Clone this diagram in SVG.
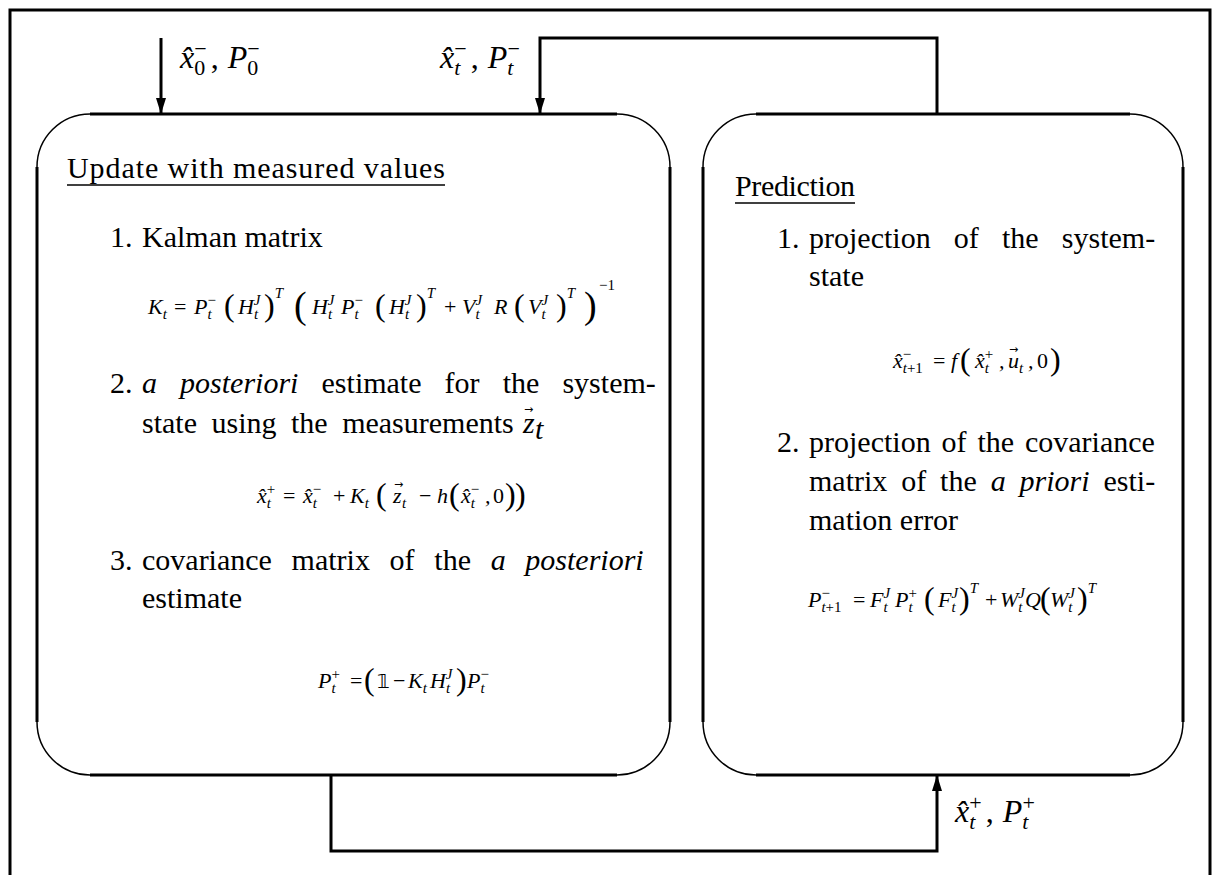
<svg xmlns="http://www.w3.org/2000/svg" width="1221" height="875" viewBox="0 0 1221 875">
<defs>
<style>
.t{font-family:"Liberation Serif",serif;font-size:30px;fill:#000}
.i{font-style:italic}
.m{font-family:"Liberation Serif","DejaVu Serif",serif;font-style:italic;font-size:22px;fill:#000}
.s{font-size:15px}
.u{font-style:normal}
.bp{font-style:normal;font-size:32px}
.bp2{font-style:normal;font-size:38px}
.ar{font-family:"DejaVu Sans",sans-serif;font-style:normal;font-size:11px}
.L{font-family:"Liberation Serif",serif;font-style:italic;font-size:32px;fill:#000}
.ls{font-size:22px}
.edge{fill:none;stroke:#000;stroke-width:3}
.arc{fill:none;stroke:#000;stroke-width:1.5}
.conn{fill:none;stroke:#000;stroke-width:3}
.ul{stroke:#000;stroke-width:1.5}
</style>
<marker id="ah" markerUnits="userSpaceOnUse" markerWidth="16" markerHeight="10" refX="15" refY="5" orient="auto">
<path d="M0,0 L16,5 L0,10 z" fill="#000"/>
</marker>
</defs>
<rect x="0" y="0" width="1221" height="875" fill="#fff"/>
<g id="frame">
<path class="edge" d="M10,880 V10 H1210 V880"/>
</g>
<g id="connectors">
<path class="conn" d="M161,38 V113" marker-end="url(#ah)"/>
<path class="conn" d="M937,114 V38 H540 V113" marker-end="url(#ah)"/>
<path class="conn" d="M331,775 V851 H937 V776" marker-end="url(#ah)"/>
</g>
<g id="label-init">
<text class="L" x="180" y="68">x̂<tspan class="ls u" y="75">0</tspan><tspan class="ls u" dx="-11" y="56">−</tspan><tspan class="u" dx="4" y="68">,</tspan><tspan dx="9">P</tspan><tspan class="ls u" y="75">0</tspan><tspan class="ls u" dx="-11" y="56">−</tspan></text>
</g>
<g id="label-prior">
<text class="L" x="440" y="68">x̂<tspan class="ls" y="75">t</tspan><tspan class="ls u" dx="-6" y="56">−</tspan><tspan class="u" dx="4" y="68">,</tspan><tspan dx="9">P</tspan><tspan class="ls" y="75">t</tspan><tspan class="ls u" dx="-6" y="56">−</tspan></text>
</g>
<g id="label-post">
<text class="L" x="955" y="822">x̂<tspan class="ls" y="829">t</tspan><tspan class="ls u" dx="-6" y="810">+</tspan><tspan class="u" dx="4" y="822">,</tspan><tspan dx="9">P</tspan><tspan class="ls" y="829">t</tspan><tspan class="ls u" dx="-6" y="810">+</tspan></text>
</g>
<g id="update">
<rect class="arc" x="37" y="114" width="633" height="661" rx="53" ry="53"/>
<path class="edge" d="M90,114 H617 M90,775 H617 M37,167 V722 M670,167 V722"/>
<text class="t" x="67" y="178" textLength="378" lengthAdjust="spacing">Update with measured values</text>
<line class="ul" x1="67" y1="185" x2="445" y2="185"/>
<text class="t" x="110" y="247">1.</text>
<text class="t" x="142" y="247">Kalman matrix</text>
<text class="m" y="314"><tspan x="148">K</tspan><tspan class="s" y="319">t</tspan><tspan class="u" x="174" y="314">=</tspan><tspan x="194">P</tspan><tspan class="s" y="319">t</tspan><tspan class="s u" dx="-4.2" y="305">−</tspan><tspan class="bp" x="224" y="316">(</tspan><tspan x="238" y="314">H</tspan><tspan class="s" y="319">t</tspan><tspan class="s" dx="-4.2" y="305">J</tspan><tspan class="bp" x="264" y="316">)</tspan><tspan class="s" y="298">T</tspan><tspan class="bp2" x="294" y="318">(</tspan><tspan x="312" y="314">H</tspan><tspan class="s" y="319">t</tspan><tspan class="s" dx="-4.2" y="305">J</tspan><tspan x="341" y="314">P</tspan><tspan class="s" y="319">t</tspan><tspan class="s u" dx="-4.2" y="305">−</tspan><tspan class="bp" x="375" y="316">(</tspan><tspan x="389" y="314">H</tspan><tspan class="s" y="319">t</tspan><tspan class="s" dx="-4.2" y="305">J</tspan><tspan class="bp" x="416" y="316">)</tspan><tspan class="s" y="298">T</tspan><tspan class="u" x="444" y="314">+</tspan><tspan x="462">V</tspan><tspan class="s" y="319">t</tspan><tspan class="s" dx="-4.2" y="305">J</tspan><tspan x="494" y="314">R</tspan><tspan class="bp" x="514" y="316">(</tspan><tspan x="528" y="314">V</tspan><tspan class="s" y="319">t</tspan><tspan class="s" dx="-4.2" y="305">J</tspan><tspan class="bp" x="556" y="316">)</tspan><tspan class="s" y="298">T</tspan><tspan class="bp2" x="584" y="318">)</tspan><tspan class="s u" x="599" y="290">−1</tspan></text>
<text class="t" x="110" y="393">2.</text>
<text class="t" x="142" y="393" word-spacing="15.6"><tspan class="i">a posteriori</tspan> estimate for the system-</text>
<text class="t" x="142" y="433" word-spacing="7">state using the measurements</text>
<text class="t i" x="523" y="433">z</text><text class="t ar" x="524" y="413" font-size="14px">→</text><text class="t i" x="535" y="439" font-size="21px">t</text>
<text class="m" y="503"><tspan x="257">x̂</tspan><tspan class="s" y="508">t</tspan><tspan class="s u" dx="-4.2" y="494">+</tspan><tspan class="u" x="283" y="503">=</tspan><tspan x="303">x̂</tspan><tspan class="s" y="508">t</tspan><tspan class="s u" dx="-4.2" y="494">−</tspan><tspan class="u" x="333" y="503">+</tspan><tspan x="350">K</tspan><tspan class="s" y="508">t</tspan><tspan class="bp" x="376" y="505">(</tspan><tspan x="393" y="503">z</tspan><tspan class="ar" x="394" y="488">→</tspan><tspan class="s" x="402" y="508">t</tspan><tspan class="u" x="419" y="503">−</tspan><tspan x="437">h</tspan><tspan class="bp" x="449" y="505">(</tspan><tspan x="461" y="503">x̂</tspan><tspan class="s" y="508">t</tspan><tspan class="s u" dx="-4.2" y="494">−</tspan><tspan x="485" y="503">,</tspan><tspan class="u" x="493">0</tspan><tspan class="bp" x="505" y="505">)</tspan><tspan class="bp" x="515">)</tspan></text>
<text class="t" x="110" y="570">3.</text>
<text class="t" x="142" y="570" word-spacing="12.2">covariance matrix of the <tspan class="i">a posteriori</tspan></text>
<text class="t" x="142" y="608">estimate</text>
<text class="m" y="688"><tspan x="318">P</tspan><tspan class="s" y="693">t</tspan><tspan class="s u" dx="-4.2" y="679">+</tspan><tspan class="u" x="350" y="688">=</tspan><tspan class="bp" x="364" y="690">(</tspan><tspan class="u" x="377" y="688" font-family="DejaVu Sans, sans-serif" font-size="20px">𝟙</tspan><tspan class="u" x="393" y="688">−</tspan><tspan x="408">K</tspan><tspan class="s" y="693">t</tspan><tspan x="430" y="688">H</tspan><tspan class="s" y="693">t</tspan><tspan class="s" dx="-4.2" y="679">J</tspan><tspan class="bp" x="456" y="690">)</tspan><tspan x="467" y="688">P</tspan><tspan class="s" y="693">t</tspan><tspan class="s u" dx="-4.2" y="679">−</tspan></text>
</g>
<g id="prediction">
<rect class="arc" x="703" y="114" width="480" height="661" rx="53" ry="53"/>
<path class="edge" d="M756,114 H1130 M756,775 H1130 M703,167 V722 M1183,167 V722"/>
<text class="t" x="735" y="196" textLength="120" lengthAdjust="spacing">Prediction</text>
<line class="ul" x1="735" y1="203" x2="855" y2="203"/>
<text class="t" x="777" y="248">1.</text>
<text class="t" x="809" y="248" word-spacing="15.7">projection of the system-</text>
<text class="t" x="809" y="286">state</text>
<text class="m" y="368"><tspan x="893">x̂</tspan><tspan class="s u" y="359">−</tspan><tspan class="s" dx="-8.5" y="373">t</tspan><tspan class="s u" y="373">+1</tspan><tspan class="u" x="933" y="368">=</tspan><tspan x="951">f</tspan><tspan class="bp" x="960" y="370">(</tspan><tspan x="975" y="368">x̂</tspan><tspan class="s" y="373">t</tspan><tspan class="s u" dx="-4.2" y="359">+</tspan><tspan x="999" y="368">,</tspan><tspan x="1008">u</tspan><tspan class="ar" x="1009" y="353">→</tspan><tspan class="s" x="1019" y="373">t</tspan><tspan x="1028" y="368">,</tspan><tspan class="u" x="1037">0</tspan><tspan class="bp" x="1050" y="370">)</tspan></text>
<text class="t" x="777" y="452">2.</text>
<text class="t" x="809" y="452" word-spacing="3.4">projection of the covariance</text>
<text class="t" x="809" y="491" word-spacing="6.4">matrix of the <tspan class="i">a priori</tspan> esti-</text>
<text class="t" x="809" y="530">mation error</text>
<text class="m" y="607"><tspan x="808">P</tspan><tspan class="s u" y="598">−</tspan><tspan class="s" dx="-8.5" y="612">t</tspan><tspan class="s u" y="612">+1</tspan><tspan class="u" x="853" y="607">=</tspan><tspan x="870">F</tspan><tspan class="s" y="612">t</tspan><tspan class="s" dx="-4.2" y="598">J</tspan><tspan x="895" y="607">P</tspan><tspan class="s" y="612">t</tspan><tspan class="s u" dx="-4.2" y="598">+</tspan><tspan class="bp" x="924" y="609">(</tspan><tspan x="938" y="607">F</tspan><tspan class="s" y="612">t</tspan><tspan class="s" dx="-4.2" y="598">J</tspan><tspan class="bp" x="959" y="609">)</tspan><tspan class="s" y="593">T</tspan><tspan class="u" x="985" y="607">+</tspan><tspan x="1000">W</tspan><tspan class="s" y="612">t</tspan><tspan class="s" dx="-4.2" y="598">J</tspan><tspan x="1025" y="607">Q</tspan><tspan class="bp" x="1040" y="609">(</tspan><tspan x="1050" y="607">W</tspan><tspan class="s" y="612">t</tspan><tspan class="s" dx="-4.2" y="598">J</tspan><tspan class="bp" x="1077" y="609">)</tspan><tspan class="s" y="593">T</tspan></text>
</g>
</svg>
